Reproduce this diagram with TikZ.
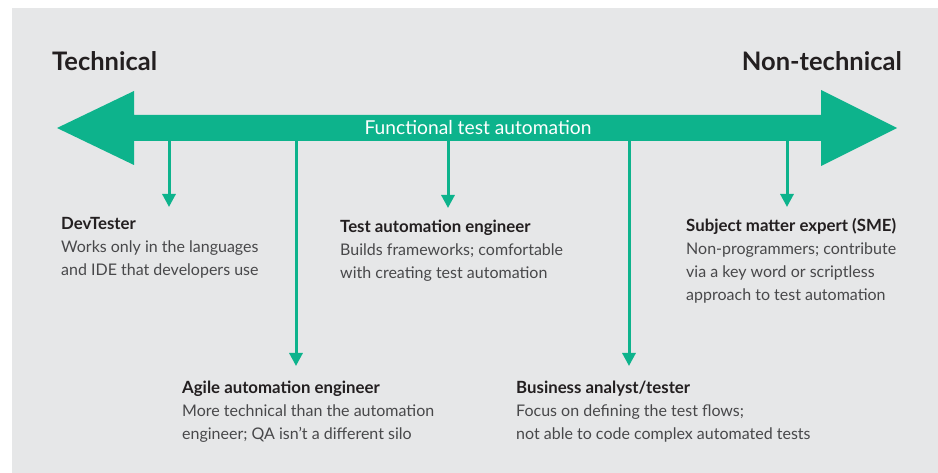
\documentclass[tikz,border=0pt]{standalone}
\usepackage{fontspec}
\setmainfont{Lato}
\usetikzlibrary{arrows.meta}
\definecolor{hpegreen}{HTML}{0DB38C}
\definecolor{bggray}{HTML}{E6E7E8}
\definecolor{titletext}{HTML}{231F20}
\definecolor{bodytext}{HTML}{48484A}
\tikzset{
  title/.style={inner sep=0pt, text=titletext, font=\fontsize{25.5}{30}\selectfont\bfseries},
  role/.style={inner sep=0pt, anchor=base west, align=left, text=bodytext, font=\fontsize{16}{23}\selectfont},
  drop/.style={draw=hpegreen, line width=3pt, -{Triangle[width=13pt,length=13pt]}},
}
\newcommand{\rolehead}[1]{{\color{titletext}\fontsize{16.8}{23}\selectfont\bfseries #1}}
\begin{document}
\begin{tikzpicture}[x=1pt,y=-1pt]
\useasboundingbox (0,0) rectangle (938,473);
\fill[white] (0,0) rectangle (938,473);
\fill[bggray] (12,8) rectangle (938,473);
% big double arrow
\fill[hpegreen] (57,128) -- (134,91) -- (134,115) -- (821,115) -- (821,90) -- (897,128)
  -- (821,166) -- (821,141) -- (134,141) -- (134,165) -- cycle;
\node[inner sep=0pt, anchor=base, text=white, font=\fontsize{19.2}{22}\selectfont] (axis) at (478,135) {Functional test automation};
\node[title, anchor=base west] (tech) at (52,71) {Technical};
\node[title, anchor=base east] (nontech) at (902,71) {Non-technical};
% anchors on the shaft
\coordinate (s1) at (169,138);
\coordinate (s2) at (296,138);
\coordinate (s3) at (448,138);
\coordinate (s4) at (629,138);
\coordinate (s5) at (787,138);
\coordinate (e1) at (169,207);
\coordinate (e2) at (296,366);
\coordinate (e3) at (448,208);
\coordinate (e4) at (629,366);
\coordinate (e5) at (787,207);
\draw[drop] (s1) -- (e1);
\draw[drop] (s2) -- (e2);
\draw[drop] (s3) -- (e3);
\draw[drop] (s4) -- (e4);
\draw[drop] (s5) -- (e5);
% role texts (anchored at the baseline of their last line)
\node[role] (dev) at (61,276) {\rolehead{DevTester}\\Works only in the languages\\and IDE that developers use};
\node[role] (tae) at (340,279) {\rolehead{Test automation engineer}\\Builds frameworks; comfortable\\with creating test automation};
\node[role] (sme) at (686,301) {\rolehead{Subject matter expert (SME)}\\Non-programmers; contribute\\via a key word or scriptless\\approach to test automation};
\node[role] (agile) at (182,439) {\rolehead{Agile automation engineer}\\More technical than the automation\\engineer; QA isn’t a different silo};
\node[role] (ba) at (516,439) {\rolehead{Business analyst/tester}\\Focus on defining the test flows;\\not able to code complex automated tests};
\end{tikzpicture}
\end{document}
